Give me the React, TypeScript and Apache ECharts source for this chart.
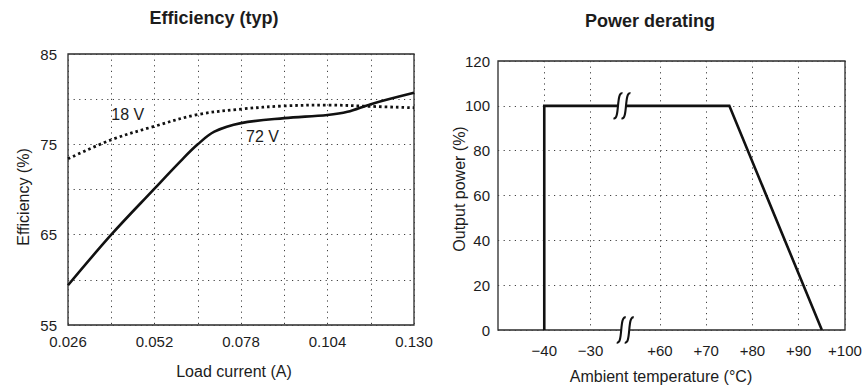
import React, { useEffect, useRef } from "react";
import * as echarts from "echarts";

// ---------- Efficiency (typ) ----------
const effCurrent18V = [0.026, 0.039, 0.052, 0.065, 0.078, 0.091, 0.104, 0.117, 0.13];
const eff18V = [73.4, 75.5, 77.0, 78.3, 78.9, 79.25, 79.35, 79.2, 79.05];
const effCurrent72V = [0.026, 0.039, 0.052, 0.06, 0.065, 0.07, 0.078, 0.091, 0.104, 0.11, 0.117, 0.13];
const eff72V = [59.4, 65.0, 70.1, 73.2, 75.0, 76.4, 77.35, 77.9, 78.25, 78.6, 79.45, 80.7];
const effCurveLabels = ["18 V", "72 V"];
const effCurveLabelAt = [
  [0.039, 78.25],
  [0.0795, 75.9],
];

// ---------- Power derating ----------
const deratingTempC = [-40, -40, 75, 95];
const deratingPowerPct = [0, 100, 100, 0];
const tempTickLabelsC = [-40, -30, 60, 70, 80, 90, 100];
const tempAxisMinC = -50;
const tempAxisMaxC = 100;
const breakLowC = -30;
const breakHighC = 60;
const breakGap = 15; // axis units shown for the broken span

const toAxis = (t: number) => (t <= breakLowC ? t : t - (breakHighC - breakLowC) + breakGap);
const fromAxis = (u: number) => (u <= breakLowC + 0.5 ? u : u + (breakHighC - breakLowC) - breakGap);
const fmtTemp = (t: number) => (t < 0 ? "\u2212" + Math.abs(t) : "+" + t);

const FONT = "'Liberation Sans', Arial, Helvetica, sans-serif";
const INK = "#1c1c1c";

export default function App() {
  const ref = useRef<HTMLDivElement>(null);

  useEffect(() => {
    if (!ref.current) return;
    const chart = echarts.init(ref.current, null, { renderer: "svg" });

    const gridLine = {
      show: true,
      lineStyle: { color: "#404040", width: 1, type: [1.2, 4.4] },
    };
    const tickLabel = { color: INK, fontSize: 15, fontFamily: FONT };
    const tempCustom = tempTickLabelsC.map(toAxis);

    chart.setOption({
      animation: false,
      textStyle: { fontFamily: FONT },
      grid: [
        {
          left: 68, right: 448, top: 54, bottom: 61,
          show: true, borderColor: "#2a2a2a", borderWidth: 1.3, backgroundColor: "transparent",
          outerBoundsMode: "none",
        },
        {
          left: 498, right: 17, top: 61, bottom: 56,
          show: true, borderColor: "#2a2a2a", borderWidth: 1.3, backgroundColor: "transparent",
          outerBoundsMode: "none",
        },
      ],
      xAxis: [
        {
          gridIndex: 0, type: "value", min: 0.026, max: 0.13, interval: 0.013,
          axisLine: { show: false }, axisTick: { show: false },
          splitLine: gridLine,
          axisLabel: {
            ...tickLabel, margin: 9, hideOverlap: false, showMinLabel: true, showMaxLabel: true,
            formatter: (v: number) => {
              const k = Math.round(v / 0.013);
              return k % 2 === 0 ? (k * 0.013).toFixed(3) : "";
            },
          },
        },
        {
          gridIndex: 1, type: "value",
          min: toAxis(tempAxisMinC), max: toAxis(tempAxisMaxC),
          axisLine: { show: false },
          axisTick: { show: false, customValues: tempCustom },
          splitLine: gridLine,
          axisLabel: {
            ...tickLabel, margin: 13, hideOverlap: false,
            customValues: tempCustom,
            formatter: (u: number) => fmtTemp(Math.round(fromAxis(u))),
          },
        },
      ],
      yAxis: [
        {
          gridIndex: 0, type: "value", min: 55, max: 85, interval: 5,
          axisLine: { show: false }, axisTick: { show: false },
          splitLine: gridLine,
          axisLabel: {
            ...tickLabel, margin: 11, hideOverlap: false,
            formatter: (v: number) => (Math.round(v - 55) % 10 === 0 ? String(v) : ""),
          },
        },
        {
          gridIndex: 1, type: "value", min: 0, max: 120, interval: 20,
          axisLine: { show: false }, axisTick: { show: false },
          splitLine: gridLine,
          axisLabel: { ...tickLabel, margin: 8, hideOverlap: false },
        },
      ],
      series: [
        {
          name: "18 V", type: "line", xAxisIndex: 0, yAxisIndex: 0,
          data: effCurrent18V.map((c, i) => [c, eff18V[i]]),
          smooth: 0.35, symbol: "none",
          lineStyle: { color: "#111", width: 2.8, type: [2.6, 3.0] },
          z: 3,
        },
        {
          name: "72 V", type: "line", xAxisIndex: 0, yAxisIndex: 0,
          data: effCurrent72V.map((c, i) => [c, eff72V[i]]),
          smooth: 0.35, symbol: "none",
          lineStyle: { color: "#111", width: 2.6 },
          z: 3,
        },
        {
          name: "Power", type: "line", xAxisIndex: 1, yAxisIndex: 1,
          data: deratingTempC.map((t, i) => [toAxis(t), deratingPowerPct[i]]),
          symbol: "none", clip: false,
          lineStyle: { color: "#111", width: 2.6, join: "miter" },
          z: 3,
        },
      ],
    });

    const px = (gi: number, pt: number[]) => chart.convertToPixel({ gridIndex: gi } as any, pt) as number[];

    const txt = (x: number, y: number, text: string, size: number, opts: any = {}) => ({
      type: "text",
      x, y,
      rotation: opts.rotation || 0,
      z: 50,
      style: {
        text,
        fill: INK,
        font: `${opts.bold ? "bold " : ""}${size}px ${FONT}`,
        fontSize: size,
        fontWeight: opts.bold ? "bold" : "normal",
        fontFamily: FONT,
        align: opts.align || "center",
        textAlign: opts.align || "center",
        verticalAlign: "middle",
        textVerticalAlign: "middle",
      },
    });

    const breakMark = (cx: number, cy: number) => {
      const sep = 8;
      const h = 12.5;
      const w = 4.5;
      const curve = (x: number) => ({
        type: "bezierCurve",
        z: 60,
        shape: {
          x1: x - w, y1: cy + h,
          cpx1: x + 2, cpy1: cy + h + 2,
          cpx2: x - 2, cpy2: cy - h - 2,
          x2: x + w, y2: cy - h,
        },
        style: { stroke: "#111", lineWidth: 2.1, fill: null },
      });
      return [
        {
          type: "rect", z: 55,
          shape: { x: cx - sep / 2, y: cy - 3, width: sep, height: 6 },
          style: { fill: "#fff" },
        },
        curve(cx - sep / 2),
        curve(cx + sep / 2),
      ];
    };

    const breakU = (toAxis(breakLowC) + toAxis(breakHighC)) / 2;
    const topBreak = px(1, [breakU - 0.7, 100]);
    const botBreak = px(1, [breakU, 0]);
    const l18 = px(0, effCurveLabelAt[0]);
    const l72 = px(0, effCurveLabelAt[1]);

    chart.setOption({
      graphic: [
        txt(214, 18, "Efficiency (typ)", 18, { bold: true }),
        txt(650, 21, "Power derating", 18, { bold: true }),
        txt(23.5, 197, "Efficiency (%)", 16, { rotation: Math.PI / 2 }),
        txt(459, 189, "Output power (%)", 16, { rotation: Math.PI / 2 }),
        txt(234, 371, "Load current (A)", 16),
        txt(661, 376, "Ambient temperature (\u00B0C)", 16),
        txt(l18[0], l18[1], effCurveLabels[0], 16, { align: "left" }),
        txt(l72[0], l72[1], effCurveLabels[1], 16, { align: "left" }),
        ...breakMark(topBreak[0], topBreak[1]),
        ...breakMark(botBreak[0], botBreak[1]),
      ],
    });

    return () => chart.dispose();
  }, []);

  return (
    <div
      ref={ref}
      style={{ position: "absolute", left: 0, top: 0, width: 862, height: 386, background: "#fff" }}
    />
  );
}
